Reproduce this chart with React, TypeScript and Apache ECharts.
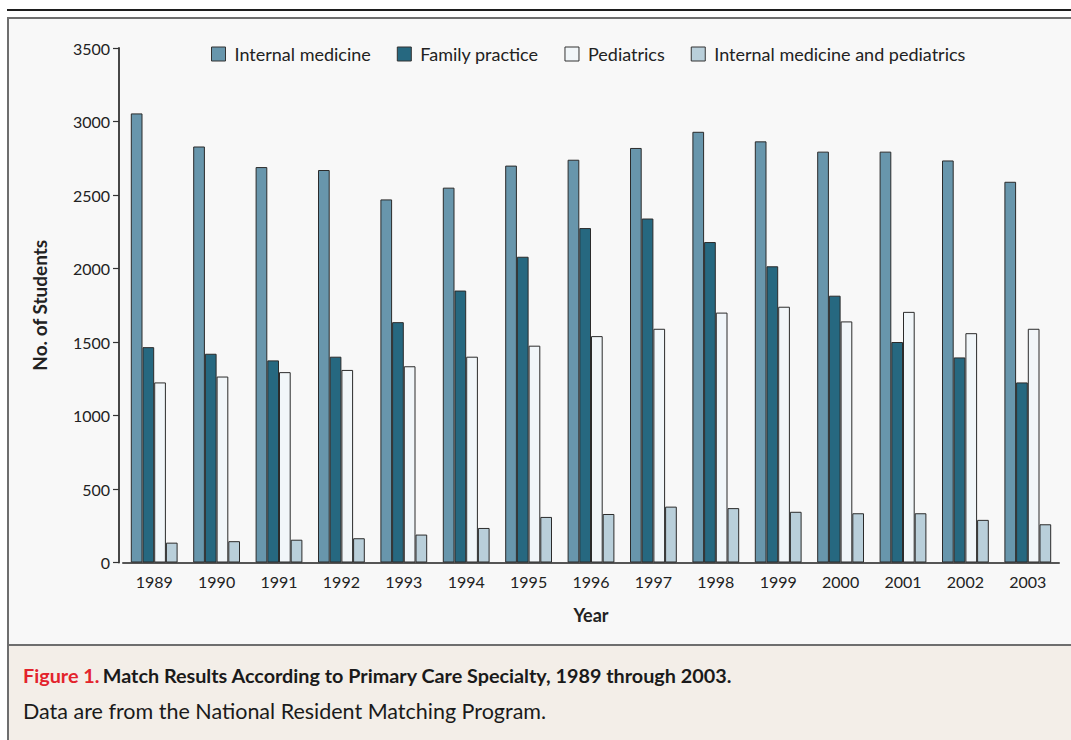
import React, { useEffect, useRef } from "react";
import * as echarts from "echarts";

const years = ["1989","1990","1991","1992","1993","1994","1995","1996","1997","1998","1999","2000","2001","2002","2003"];
const internalMedicine = [3055, 2830, 2690, 2670, 2470, 2550, 2700, 2740, 2820, 2930, 2865, 2795, 2795, 2735, 2590];
const familyPractice = [1465, 1420, 1375, 1400, 1635, 1850, 2080, 2275, 2340, 2180, 2015, 1815, 1500, 1395, 1225];
const pediatrics = [1225, 1265, 1295, 1310, 1335, 1400, 1475, 1540, 1590, 1700, 1740, 1640, 1705, 1560, 1590];
const medPeds = [135, 145, 155, 165, 190, 235, 310, 330, 380, 370, 345, 335, 335, 290, 260];
const seriesNames = ["Internal medicine", "Family practice", "Pediatrics", "Internal medicine and pediatrics"];
const seriesColors = ["#6896ac", "#266880", "#f1f6f9", "#b9cfda"];

const FONT = "Lato";

export default function App() {
  const ref = useRef<HTMLDivElement>(null);
  useEffect(() => {
    document.body.style.margin = "0";
    const chart = echarts.init(ref.current!, null, { renderer: "svg" });
    const data = [internalMedicine, familyPractice, pediatrics, medPeds];
    chart.setOption({
      animation: false,
      backgroundColor: "#ffffff",
      textStyle: { fontFamily: FONT },
      graphic: [
        { type: "line", shape: { x1: 7, y1: 10, x2: 1071, y2: 10 }, style: { stroke: "#1e1e1e", lineWidth: 2 }, z: -10 },
        { type: "rect", shape: { x: 8, y: 18, width: 1080, height: 740 }, style: { fill: "#f8f8f8", stroke: "#6e6e6e", lineWidth: 2 }, z: -10 },
        { type: "rect", shape: { x: 8, y: 645, width: 1080, height: 120 }, style: { fill: "#f3eee8", stroke: "#6e6e6e", lineWidth: 2 }, z: -9 },
        {
          type: "text", left: 23, top: 665, z: 10,
          style: {
            text: "{r|Figure 1.} {b|Match Results According to Primary Care Specialty, 1989 through 2003.}",
            rich: {
              r: { fill: "#e3232c", fontFamily: FONT, fontWeight: "bold", fontSize: 19.8 },
              b: { fill: "#1a1a1a", fontFamily: FONT, fontWeight: "bold", fontSize: 19.8 },
            },
          },
        },
        {
          type: "text", left: 23, top: 700, z: 10,
          style: { text: "Data are from the National Resident Matching Program.", fill: "#1a1a1a", fontFamily: FONT, fontSize: 21.5 },
        },
      ],
      legend: {
        left: 211, top: 45, padding: 0, itemWidth: 14, itemHeight: 14, itemGap: 26,
        icon: "rect",
        data: seriesNames,
        textStyle: { fontFamily: FONT, fontSize: 18, color: "#222", padding: [0, 0, 0, 4] },
        itemStyle: { borderColor: "#333", borderWidth: 1 },
      },
      grid: { left: 123, right: 12, top: 48, bottom: 177.5 },
      xAxis: {
        type: "category",
        data: years,
        name: "Year",
        nameLocation: "middle",
        nameGap: 43,
        nameTextStyle: { fontFamily: FONT, fontWeight: "bold", fontSize: 18, color: "#222" },
        axisLine: { lineStyle: { color: "#555", width: 2 } },
        axisTick: { alignWithLabel: true, length: 6, lineStyle: { color: "#333", width: 1.2 } },
        axisLabel: { fontFamily: FONT, fontSize: 16, color: "#222", margin: 11 },
      },
      yAxis: {
        type: "value",
        min: 0, max: 3500, interval: 500,
        offset: 4,
        name: "No. of Students",
        nameLocation: "middle",
        nameGap: 70,
        nameTextStyle: { fontFamily: FONT, fontWeight: "bold", fontSize: 19, color: "#222" },
        axisLine: { show: true, lineStyle: { color: "#333", width: 1.8 } },
        axisTick: { show: true, length: 6, lineStyle: { color: "#333", width: 1.2 } },
        axisLabel: { fontFamily: FONT, fontSize: 16, color: "#222", margin: 9, formatter: (v: number) => String(v) },
        splitLine: { show: false },
      },
      series: seriesNames.map((name, i) => ({
        name,
        type: "bar",
        data: data[i],
        barWidth: 11.7,
        barGap: "0%",
        itemStyle: { color: seriesColors[i], borderColor: "#2b2b2b", borderWidth: 1 },
      })),
    });
    return () => chart.dispose();
  }, []);
  return <div ref={ref} style={{ width: 1071, height: 740 }} />;
}
